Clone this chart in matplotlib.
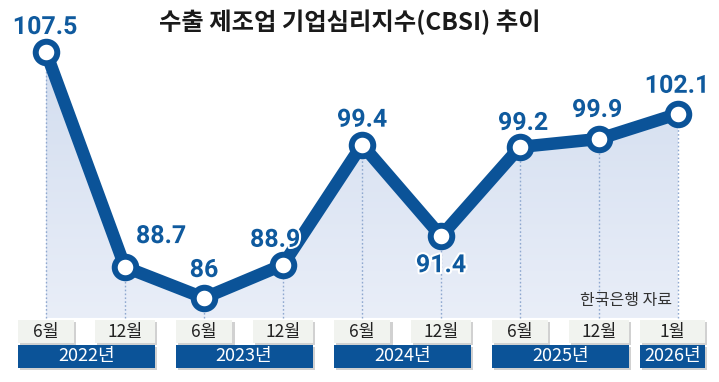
import matplotlib
matplotlib.use("Agg")
import numpy as np
import matplotlib.pyplot as plt
import matplotlib.patheffects as pe
from matplotlib.patches import Rectangle, Polygon
from matplotlib.colors import LinearSegmentedColormap
from matplotlib.transforms import blended_transform_factory

plt.rcParams['font.family'] = ['Noto Sans CJK KR', 'DejaVu Sans']

# data
months = ['6월', '12월', '6월', '12월', '6월', '12월', '6월', '12월', '1월']
years = ['2022년', '2023년', '2024년', '2025년', '2026년']
year_first = [0, 2, 4, 6, 8]
year_last = [1, 3, 5, 7, 8]
values = [107.5, 88.7, 86, 88.9, 99.4, 91.4, 99.2, 99.9, 102.1]
value_labels = ['107.5', '88.7', '86', '88.9', '99.4', '91.4', '99.2', '99.9', '102.1']

# label offsets in pixels (dx, dy)
label_off = [(-1, 25), (36, 31), (0, 28), (-8, 25), (0, 25), (0, -29), (3, 24), (-2, 29), (-1, 28)]

BLUE = '#0b5398'
LABEL_BLUE = '#0f5a9e'
W, H = 719, 382

fig = plt.figure(figsize=(W / 100, H / 100), dpi=100)
ax = fig.add_axes([0, 0, 1, 1])
ax.set_axis_off()

# pixel layout: idx 0 -> x=46px, step 79px ; 107.5 -> row 52, 11.44 px per unit
step = 79.0
ax.set_xlim(-46 / step, (W - 46) / step)
ppu = 11.44
ax.set_ylim(107.5 - (H - 52) / ppu, 107.5 + 52 / ppu)

x = np.arange(len(values))
y_floor = 107.5 - (318 - 52) / ppu

# gradient fill under the line
verts = [(x[0], y_floor)] + list(zip(x, values)) + [(x[-1], y_floor)]
poly = Polygon(verts, closed=True, facecolor='none', edgecolor='none')
ax.add_patch(poly)
grad = np.linspace(0, 1, 256).reshape(-1, 1)
cmap = LinearSegmentedColormap.from_list('fill', ['#e9eef8', '#d2ddef'])
img = ax.imshow(grad, cmap=cmap, aspect='auto', origin='lower',
                extent=[x[0], x[-1], y_floor, max(values)], zorder=1)
img.set_clip_path(poly)

# dotted drop lines
for xi, v in zip(x, values):
    ax.plot([xi, xi], [y_floor, v], color='#8fa8cf', lw=1.0, ls=(0, (1.2, 1.6)), zorder=2)

# main line
ax.plot(x, values, color=BLUE, lw=9, solid_capstyle='round', solid_joinstyle='round', zorder=3)
ax.plot(x, values, 'o', ms=15.5, mfc='white', mec=BLUE, mew=4.3, zorder=4)

for xi, v, lab, (dx, dy) in zip(x, values, value_labels, label_off):
    ax.annotate(lab, (xi, v), xytext=(dx, dy), textcoords='offset pixels',
                ha='center', va='center', fontsize=18, fontweight='bold',
                family=['Roboto', 'DejaVu Sans'], color=LABEL_BLUE, zorder=6,
                path_effects=[pe.withStroke(linewidth=3, foreground='white')])

# title and source
fig.text(350 / W, 1 - 22 / H, '수출 제조업 기업심리지수(CBSI) 추이', ha='center', va='center',
         fontsize=17.5, fontweight='bold', color='#1a1a1a')
fig.text(672 / W, 1 - 301 / H, '한국은행 자료', ha='right', va='center',
         fontsize=11.5, color='#333333')

# bottom category boxes (x in data, y in axes fraction)
tr = blended_transform_factory(ax.transData, ax.transAxes)
shadow = [pe.SimplePatchShadow(offset=(1.5, -1.5), shadow_rgbFace='#9a9a9a', alpha=0.45), pe.Normal()]
box_w = [0.71, 0.76, 0.72, 0.75, 0.72, 0.76, 0.71, 0.75, 0.82]
box_cx = [x[i] for i in range(len(months))]
box_cx[-1] = x[-1] - 0.07
m_top, m_bot = 1 - 320 / H, 1 - 343 / H
y_top, y_bot = 1 - 345 / H, 1 - 368 / H

for cx, bw, m in zip(box_cx, box_w, months):
    r = Rectangle((cx - bw / 2, m_bot), bw, m_top - m_bot, transform=tr,
                  facecolor='#f1f3ef', edgecolor='none', zorder=5, path_effects=shadow)
    ax.add_patch(r)
    ax.text(cx, (m_top + m_bot) / 2, m, transform=tr, ha='center', va='center',
            fontsize=12.5, color='#222222', zorder=6)

for yr, a, b in zip(years, year_first, year_last):
    left = box_cx[a] - box_w[a] / 2
    right = box_cx[b] + box_w[b] / 2
    r = Rectangle((left, y_bot), right - left, y_top - y_bot, transform=tr,
                  facecolor=BLUE, edgecolor='none', zorder=5, path_effects=shadow)
    ax.add_patch(r)
    ax.text((left + right) / 2, (y_top + y_bot) / 2, yr, transform=tr, ha='center',
            va='center', fontsize=13, color='white', zorder=6)

fig.savefig('out.png', dpi=100)
